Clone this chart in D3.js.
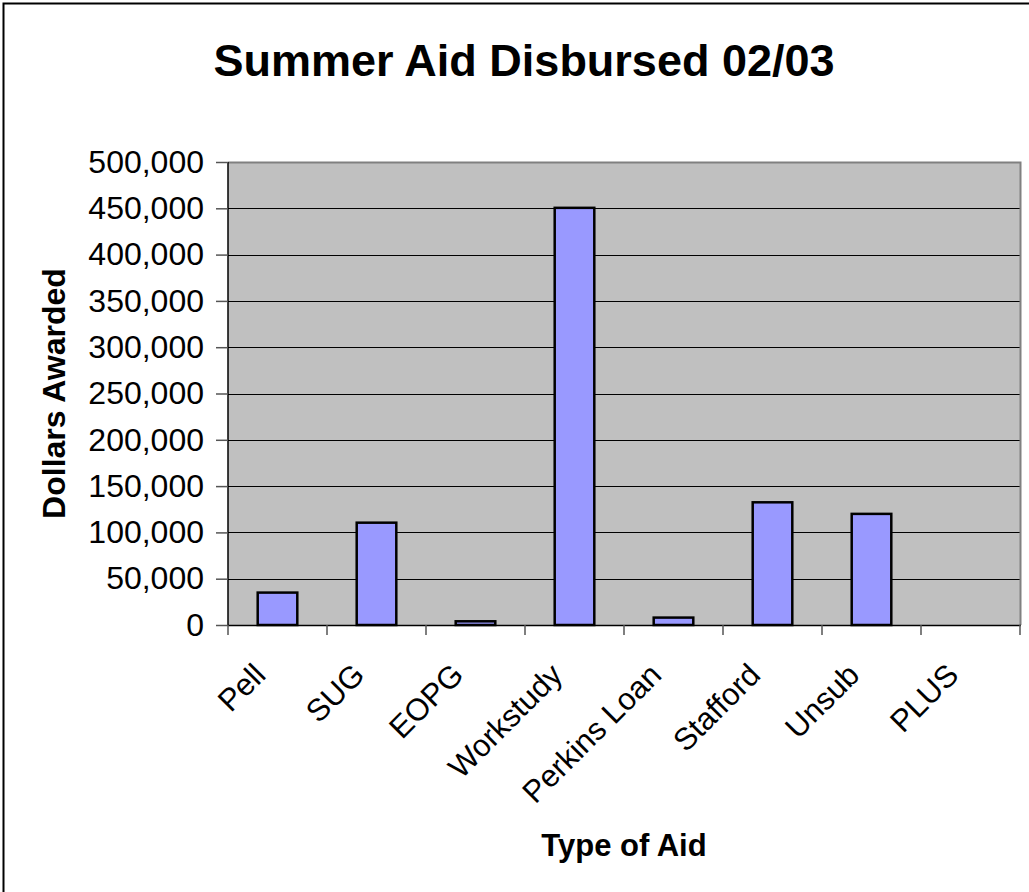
<!DOCTYPE html>
<html>
<head>
<meta charset="utf-8">
<script src="https://cdn.jsdelivr.net/npm/d3@7"></script>
<style>
  html, body { margin: 0; padding: 0; background: #fff; overflow: hidden; }
  svg { display: block; font-family: Arial, "Liberation Sans", sans-serif; }
</style>
</head>
<body>
<script>
// Aid types and dollar amounts disbursed in summer 02/03
const categories = ["Pell", "SUG", "EOPG", "Workstudy", "Perkins Loan", "Stafford", "Unsub", "PLUS"];
const dollars = [35000, 110500, 4000, 450500, 8000, 132500, 120000, 0];
const yTicks = [0, 50000, 100000, 150000, 200000, 250000, 300000, 350000, 400000, 450000, 500000];

const W = 1029, H = 892;
const plot = { left: 228, right: 1020, top: 162, bottom: 625 };

const svg = d3.select("body").append("svg").attr("width", W).attr("height", H);

// chart frame
svg.append("rect")
  .attr("x", 3.5).attr("y", 3.5).attr("width", 1100).attr("height", 1000)
  .attr("fill", "#fff").attr("stroke", "#000").attr("stroke-width", 2);

const x = d3.scaleBand().domain(categories).range([plot.left, plot.right]).paddingInner(0).paddingOuter(0);
const y = d3.scaleLinear().domain([0, 500000]).range([plot.bottom, plot.top]);

// plot background
svg.append("rect")
  .attr("x", plot.left).attr("y", plot.top)
  .attr("width", plot.right - plot.left).attr("height", plot.bottom - plot.top)
  .attr("fill", "#C0C0C0");

// gridlines
svg.append("g").selectAll("line").data(yTicks.filter(d => d > 0 && d < 500000)).join("line")
  .attr("x1", plot.left).attr("x2", plot.right)
  .attr("y1", d => Math.round(y(d)) + 0.5).attr("y2", d => Math.round(y(d)) + 0.5)
  .attr("stroke", "#000").attr("stroke-width", 1);

// plot border (top and right)
svg.append("path")
  .attr("d", `M${plot.left},${plot.top + 0.5}H${plot.right + 0.5}V${plot.bottom}`)
  .attr("fill", "none").attr("stroke", "#808080").attr("stroke-width", 2);

// bars
const barW = x.bandwidth() * 0.4;
svg.append("g").selectAll("rect").data(categories.map((c, i) => ({ c, v: dollars[i] })).filter(d => d.v > 0)).join("rect")
  .attr("x", d => x(d.c) + (x.bandwidth() - barW) / 2)
  .attr("y", d => y(d.v))
  .attr("width", barW)
  .attr("height", d => y(0) - y(d.v))
  .attr("fill", "#9999FF")
  .attr("stroke", "#000")
  .attr("stroke-width", 2.5);

// y axis
const yAxis = d3.axisLeft(y).tickValues(yTicks).tickSize(12).tickPadding(12)
  .tickFormat(d3.format(","));
const gy = svg.append("g").attr("transform", `translate(${plot.left},0)`).call(yAxis);
gy.select(".domain").attr("stroke", "#000").attr("stroke-width", 1.5).attr("d", `M0,${plot.top}V${plot.bottom}`);
gy.selectAll(".tick line").attr("stroke", "#555").attr("stroke-width", 1.5);
gy.selectAll(".tick text").attr("font-size", 32).attr("fill", "#000")
  .attr("font-family", "Arial, 'Liberation Sans', sans-serif");

// x axis: baseline and category boundary ticks
svg.append("line")
  .attr("x1", plot.left).attr("x2", plot.right + 1)
  .attr("y1", plot.bottom + 0.5).attr("y2", plot.bottom + 0.5)
  .attr("stroke", "#000").attr("stroke-width", 1.5);
const bounds = categories.map(c => x(c)).concat([plot.right]);
svg.append("g").selectAll("line").data(bounds).join("line")
  .attr("x1", d => d).attr("x2", d => d)
  .attr("y1", plot.bottom).attr("y2", plot.bottom + 10)
  .attr("stroke", "#555").attr("stroke-width", 1.5);

// rotated category labels
svg.append("g").selectAll("text").data(categories).join("text")
  .attr("transform", d => `translate(${x(d) + x.bandwidth() / 2 - 26},${plot.bottom + 36}) rotate(-45)`)
  .attr("text-anchor", "end")
  .attr("dy", "0.72em")
  .attr("font-size", 31)
  .attr("fill", "#000")
  .text(d => d);

// title
svg.append("text")
  .attr("x", 524).attr("y", 76)
  .attr("text-anchor", "middle")
  .attr("font-size", 45).attr("font-weight", "bold")
  .text("Summer Aid Disbursed 02/03");

// axis titles
svg.append("text")
  .attr("transform", `translate(65,${(plot.top + plot.bottom) / 2}) rotate(-90)`)
  .attr("text-anchor", "middle")
  .attr("font-size", 32).attr("font-weight", "bold")
  .text("Dollars Awarded");

svg.append("text")
  .attr("x", (plot.left + plot.right) / 2).attr("y", 856)
  .attr("text-anchor", "middle")
  .attr("font-size", 31).attr("font-weight", "bold")
  .text("Type of Aid");
</script>
</body>
</html>
